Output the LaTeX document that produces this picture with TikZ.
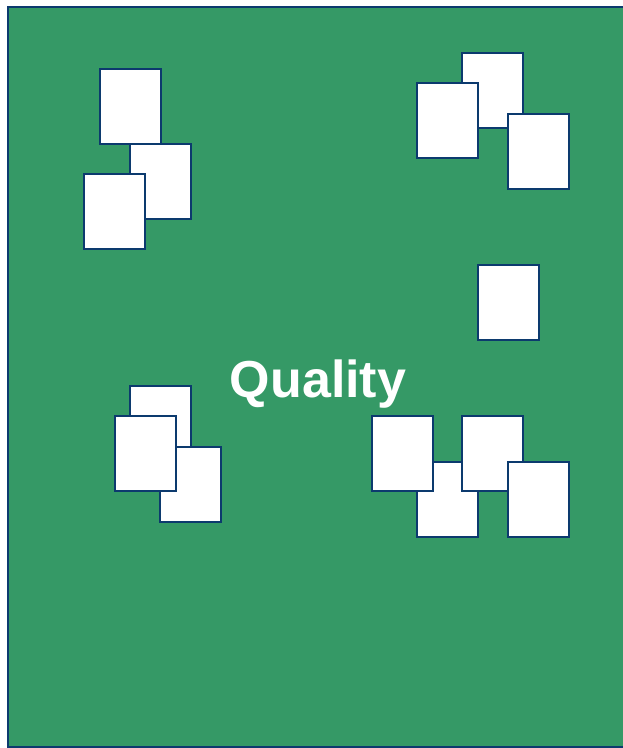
\documentclass[tikz,border=0pt]{standalone}
\usepackage{fontspec}
\setmainfont{Liberation Sans}
\usepackage{xcolor}
\usepackage{tikz}
\definecolor{fieldgreen}{RGB}{53,153,102}
\definecolor{edgenavy}{RGB}{12,58,110}

\begin{document}
\begin{tikzpicture}[
      x=1pt, y=-1pt,
      sheet/.style={draw=edgenavy, fill=white, line width=2pt, anchor=north west, inner sep=0pt,
                    minimum width=61pt, minimum height=75pt},
      title/.style={text=white, font=\fontsize{52}{60}\selectfont\bfseries}
    ]
    \useasboundingbox (0,0) rectangle (623,748);
    \draw[edgenavy, fill=fieldgreen, line width=2pt] (8,7) rectangle (640,747);
    % top left
    \node[sheet] (sa) at (99,68)   {};
    \node[sheet] (sb) at (129,143) {};
    \node[sheet] (sc) at (83,173)  {};
    % top right
    \node[sheet] (sd) at (461,52)  {};
    \node[sheet] (se) at (416,82)  {};
    \node[sheet] (sf) at (507,113) {};
    \node[sheet] (sg) at (477,264) {};
    % bottom left
    \node[sheet] (sh) at (129,385) {};
    \node[sheet] (sj) at (159,446) {};
    \node[sheet] (si) at (114,415) {};
    % bottom right
    \node[sheet] (sl) at (416,461) {};
    \node[sheet] (sk) at (371,415) {};
    \node[sheet] (sm) at (461,415) {};
    \node[sheet] (sn) at (507,461) {};
    \node[title] (q) at (318,384) {Quality};
  \end{tikzpicture}
\end{document}
